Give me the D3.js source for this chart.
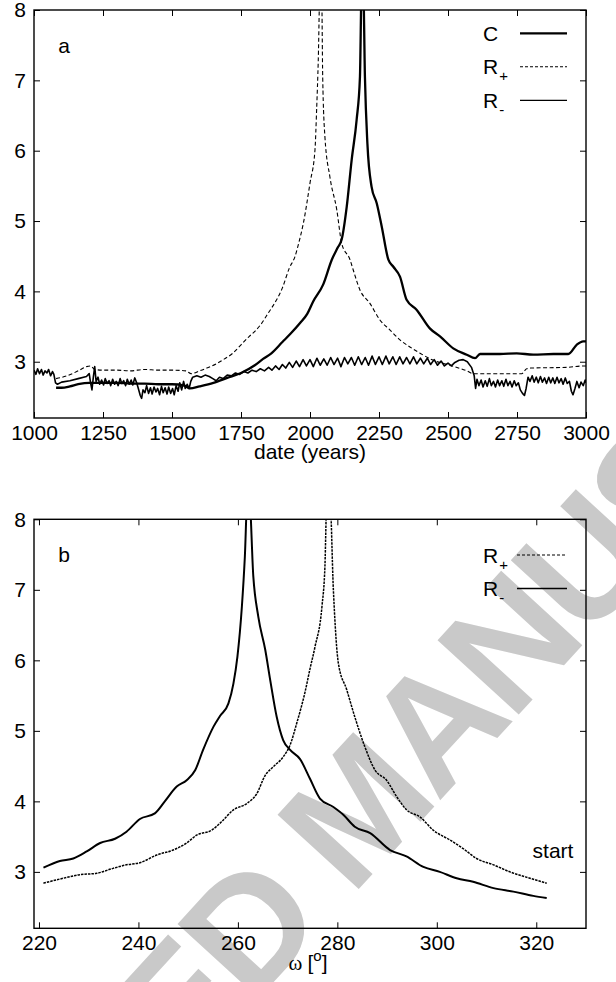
<!DOCTYPE html>
<html>
<head>
<meta charset="utf-8">
<script src="https://cdn.jsdelivr.net/npm/d3@7"></script>
<style>
  body { margin: 0; background: #fff; }
  svg { display: block; }
  text { font-family: "Liberation Sans", Arial, Helvetica, sans-serif; }
</style>
</head>
<body>
<div id="chart"></div>
<script>
// ---- panel a data : date (years) vs value ----
const aXTicks = [1000, 1250, 1500, 1750, 2000, 2250, 2500, 2750, 3000];
const yTicks = [3, 4, 5, 6, 7, 8];

const aC = [
  [1080, 2.63], [1100, 2.63], [1130, 2.65], [1160, 2.68], [1200, 2.70], [1250, 2.70],
  [1300, 2.70], [1350, 2.69], [1400, 2.69], [1450, 2.68], [1500, 2.68], [1545, 2.66],
  [1565, 2.62], [1600, 2.65], [1650, 2.70], [1700, 2.77], [1750, 2.84], [1800, 2.95],
  [1830, 3.04], [1860, 3.12], [1900, 3.28], [1930, 3.40], [1964, 3.55], [1990, 3.68],
  [2012, 3.86], [2048, 4.10], [2079, 4.45], [2100, 4.62], [2115, 4.74], [2133, 5.20],
  [2151, 5.87], [2169, 6.44], [2181, 7.05], [2187, 8.3], [2193, 8.3], [2199, 7.05],
  [2208, 6.10], [2223, 5.49], [2242, 5.25], [2260, 4.92], [2284, 4.45], [2302, 4.35],
  [2326, 4.21], [2350, 3.88], [2386, 3.74], [2435, 3.47], [2471, 3.36], [2519, 3.19],
  [2568, 3.10], [2598, 3.05], [2616, 3.11], [2688, 3.11], [2749, 3.12], [2809, 3.10],
  [2882, 3.11], [2936, 3.11], [2966, 3.24], [2990, 3.29], [3000, 3.29]
];

const aRplus = [
  [1080, 2.76], [1120, 2.80], [1160, 2.87], [1190, 2.93], [1205, 2.94], [1220, 2.89],
  [1250, 2.88], [1300, 2.88], [1350, 2.87], [1400, 2.89], [1450, 2.88], [1500, 2.88],
  [1550, 2.87], [1570, 2.83], [1600, 2.87], [1626, 2.91], [1660, 2.97], [1690, 3.04],
  [1720, 3.12], [1750, 3.24], [1780, 3.36], [1800, 3.43], [1820, 3.52], [1850, 3.70],
  [1879, 3.88], [1900, 4.05], [1925, 4.33], [1946, 4.50], [1960, 4.70], [1976, 4.97],
  [2000, 5.54], [2018, 6.01], [2024, 6.58], [2030, 7.29], [2036, 8.3], [2042, 8.3],
  [2046, 7.05], [2054, 6.20], [2072, 5.63], [2097, 5.16], [2115, 4.68], [2145, 4.45],
  [2157, 4.30], [2181, 4.02], [2217, 3.83], [2254, 3.59], [2290, 3.45], [2326, 3.31],
  [2362, 3.21], [2399, 3.12], [2447, 3.02], [2507, 2.95], [2568, 2.87], [2592, 2.83],
  [2640, 2.83], [2767, 2.83], [2785, 2.90], [2800, 2.91], [2930, 2.92], [2990, 2.94],
  [3000, 2.94]
];

const aRminus = [
  [1000, 2.88], [1007, 2.82], [1013, 2.90], [1020, 2.83], [1027, 2.89], [1033, 2.81],
  [1040, 2.87], [1047, 2.84], [1053, 2.89], [1060, 2.80], [1067, 2.86], [1072, 2.82],
  [1078, 2.70], [1085, 2.68], [1100, 2.71], [1130, 2.73], [1160, 2.76], [1190, 2.79],
  [1200, 2.83], [1205, 2.70], [1210, 2.60], [1215, 2.78], [1220, 2.93], [1225, 2.72],
  [1232, 2.78], [1238, 2.68], [1245, 2.74], [1252, 2.67], [1258, 2.76], [1265, 2.69],
  [1272, 2.73], [1278, 2.66], [1285, 2.75], [1292, 2.68], [1298, 2.72], [1305, 2.66],
  [1312, 2.76], [1318, 2.69], [1325, 2.73], [1332, 2.66], [1338, 2.75], [1345, 2.68],
  [1352, 2.74], [1358, 2.67], [1365, 2.77], [1372, 2.70], [1378, 2.62], [1385, 2.52],
  [1390, 2.48], [1395, 2.60], [1402, 2.56], [1408, 2.66], [1415, 2.55], [1422, 2.63],
  [1428, 2.54], [1435, 2.64], [1442, 2.57], [1448, 2.62], [1455, 2.53], [1462, 2.65],
  [1468, 2.56], [1475, 2.63], [1482, 2.54], [1488, 2.64], [1495, 2.55], [1502, 2.62],
  [1508, 2.53], [1515, 2.66], [1522, 2.58], [1528, 2.70], [1535, 2.60], [1542, 2.72],
  [1548, 2.62], [1555, 2.68], [1562, 2.62], [1568, 2.72], [1575, 2.78], [1590, 2.80],
  [1605, 2.78], [1620, 2.81], [1635, 2.79], [1648, 2.76], [1660, 2.73], [1672, 2.78],
  [1685, 2.76], [1700, 2.81], [1715, 2.80], [1730, 2.84], [1745, 2.82], [1760, 2.86],
  [1775, 2.84], [1790, 2.88], [1805, 2.86], [1820, 2.90], [1835, 2.87], [1850, 2.92],
  [1862, 2.88], [1875, 2.94], [1888, 2.89], [1900, 2.96], [1912, 2.91], [1925, 2.99],
  [1937, 2.92], [1950, 3.01], [1962, 2.93], [1975, 3.03], [1987, 2.94], [2000, 3.03],
  [2012, 2.93], [2025, 3.05], [2037, 2.95], [2050, 3.04], [2062, 2.95], [2075, 3.06],
  [2087, 2.96], [2100, 3.05], [2112, 2.93], [2125, 3.06], [2137, 2.97], [2150, 3.06],
  [2162, 2.95], [2175, 3.07], [2187, 2.96], [2200, 3.06], [2212, 2.95], [2225, 3.08],
  [2237, 2.96], [2250, 3.07], [2262, 2.96], [2275, 3.08], [2287, 2.97], [2300, 3.07],
  [2312, 2.96], [2325, 3.07], [2337, 2.97], [2350, 3.06], [2362, 2.97], [2375, 3.07],
  [2387, 2.97], [2400, 3.05], [2412, 2.97], [2425, 3.05], [2437, 2.96], [2450, 3.03],
  [2462, 2.95], [2475, 3.01], [2487, 2.94], [2500, 2.98], [2512, 2.94], [2525, 2.99],
  [2540, 3.02], [2555, 3.03], [2570, 3.00], [2585, 2.92], [2595, 2.80], [2600, 2.62],
  [2605, 2.75], [2612, 2.66], [2620, 2.74], [2627, 2.64], [2635, 2.73], [2642, 2.65],
  [2650, 2.76], [2657, 2.66], [2665, 2.72], [2672, 2.64], [2680, 2.74], [2687, 2.66],
  [2695, 2.73], [2702, 2.65], [2710, 2.75], [2717, 2.66], [2725, 2.72], [2732, 2.64],
  [2740, 2.73], [2747, 2.66], [2755, 2.70], [2762, 2.60], [2770, 2.55], [2777, 2.52],
  [2783, 2.62], [2790, 2.78], [2797, 2.72], [2805, 2.80], [2812, 2.71], [2820, 2.78],
  [2827, 2.70], [2835, 2.79], [2842, 2.71], [2850, 2.77], [2857, 2.69], [2865, 2.78],
  [2872, 2.70], [2880, 2.77], [2887, 2.69], [2895, 2.78], [2902, 2.70], [2910, 2.76],
  [2917, 2.68], [2925, 2.77], [2932, 2.69], [2940, 2.72], [2947, 2.58], [2953, 2.53],
  [2960, 2.62], [2967, 2.72], [2975, 2.63], [2982, 2.71], [2990, 2.66], [2997, 2.74],
  [3000, 2.70]
];

// ---- panel b data : omega (deg) vs value ----
const bXTicks = [220, 240, 260, 280, 300, 320];

const bRplus = [
  [220.9, 2.84], [224.9, 2.91], [228.2, 2.96], [231.6, 2.98], [234.9, 3.05], [237.6, 3.10],
  [240.3, 3.13], [243.7, 3.24], [247.0, 3.31], [249.7, 3.41], [251.7, 3.52], [254.7, 3.59],
  [256.7, 3.71], [259.1, 3.88], [261.8, 3.97], [263.8, 4.11], [265.5, 4.37], [267.1, 4.49],
  [269.1, 4.63], [270.5, 4.80], [271.8, 5.10], [273.5, 5.55], [274.5, 5.88], [275.5, 6.19],
  [276.9, 6.76], [277.5, 7.33], [277.9, 8.3], [278.5, 8.3], [279.2, 7.0], [280.2, 5.96],
  [281.9, 5.58], [283.5, 5.20], [285.5, 4.78], [287.6, 4.44], [289.9, 4.30], [291.9, 4.07],
  [293.9, 3.88], [296.6, 3.78], [299.3, 3.59], [302.7, 3.45], [305.3, 3.33], [308.0, 3.19],
  [311.4, 3.10], [314.7, 3.00], [318.7, 2.91], [322.1, 2.84]
];

const bRminus = [
  [220.9, 3.06], [224.2, 3.155], [226.9, 3.19], [229.6, 3.29], [232.3, 3.41], [235.3, 3.47],
  [237.6, 3.57], [240.3, 3.75], [243.3, 3.83], [245.3, 4.00], [247.7, 4.21], [249.7, 4.30],
  [251.4, 4.44], [253.0, 4.73], [255.1, 5.06], [256.4, 5.21], [258.1, 5.39], [259.1, 5.67],
  [259.9, 6.05], [260.8, 6.76], [261.4, 7.47], [261.9, 8.3], [262.3, 8.3], [263.1, 7.19],
  [264.1, 6.62], [265.5, 6.15], [266.5, 5.72], [267.8, 5.20], [269.1, 4.87], [270.5, 4.73],
  [272.5, 4.60], [274.5, 4.32], [276.5, 4.04], [279.2, 3.92], [281.2, 3.81], [283.5, 3.64],
  [286.6, 3.55], [290.6, 3.31], [293.9, 3.22], [297.3, 3.07], [300.6, 3.00], [304.0, 2.91],
  [307.3, 2.86], [311.4, 2.77], [315.4, 2.72], [319.4, 2.66], [322.1, 2.63]
];

const W = 616, H = 982;
const svg = d3.select("#chart").append("svg")
    .attr("width", W)
    .attr("height", H)
    .style("background", "#fff");

// watermark behind everything
svg.append("text")
    .attr("transform", "translate(355,808) rotate(-47.5)")
    .attr("text-anchor", "middle")
    .attr("dy", "0.36em")
    .attr("font-size", 160)
    .attr("letter-spacing", -6)
    .attr("font-weight", "bold")
    .attr("fill", "#c9c9c9")
    .text("ACCEPTED MANUSCRIPT");

function drawPanel(opt) {
    let g = svg.append("g");

    let x = d3.scaleLinear().domain(opt.xDomain).range([opt.left, opt.right]);
    let y = d3.scaleLinear().domain([2.2, 8]).range([opt.bottom, opt.top]);

    g.append("clipPath").attr("id", opt.id + "-clip")
        .append("rect")
        .attr("x", opt.left).attr("y", opt.top)
        .attr("width", opt.right - opt.left).attr("height", opt.bottom - opt.top);

    // axes with inward ticks, mirrored on top/right
    let xAxis = d3.axisBottom(x).tickValues(opt.xTicks).tickFormat(d3.format("d"))
        .tickSizeInner(-6).tickSizeOuter(0).tickPadding(7);
    let xTop = d3.axisTop(x).tickValues(opt.xTicks).tickFormat("")
        .tickSizeInner(-6).tickSizeOuter(0);
    let yAxis = d3.axisLeft(y).tickValues(yTicks).tickFormat(d3.format("d"))
        .tickSizeInner(-6).tickSizeOuter(0).tickPadding(8);
    let yRight = d3.axisRight(y).tickValues(yTicks).tickFormat("")
        .tickSizeInner(-6).tickSizeOuter(0);

    let axes = [
        [xAxis, `translate(0,${opt.bottom})`],
        [xTop, `translate(0,${opt.top})`],
        [yAxis, `translate(${opt.left},0)`],
        [yRight, `translate(${opt.right},0)`]
    ];
    axes.forEach(a => {
        let ag = g.append("g").attr("transform", a[1]).call(a[0]);
        ag.select(".domain").remove();
        ag.selectAll("line").attr("stroke", "#000").attr("stroke-width", 1);
        ag.selectAll("text")
            .attr("fill", "#000")
            .attr("font-size", 21)
            .attr("font-family", "'Liberation Sans', Arial, sans-serif");
    });

    // curves
    let line = d3.line().x(d => x(d[0])).y(d => y(d[1]));
    let plot = g.append("g").attr("clip-path", `url(#${opt.id}-clip)`);
    opt.series.forEach(s => {
        plot.append("path")
            .datum(s.data)
            .attr("fill", "none")
            .attr("stroke", "#000")
            .attr("stroke-width", s.width)
            .attr("stroke-dasharray", s.dash || null)
            .attr("stroke-linejoin", "round")
            .attr("d", line.curve(s.smooth ? d3.curveMonotoneX : d3.curveLinear));
    });

    // frame
    g.append("rect")
        .attr("x", opt.left).attr("y", opt.top)
        .attr("width", opt.right - opt.left).attr("height", opt.bottom - opt.top)
        .attr("fill", "none").attr("stroke", "#000").attr("stroke-width", 1.4);

    // panel letter
    g.append("text")
        .attr("x", 64).attr("y", opt.top + 43)
        .attr("text-anchor", "middle")
        .attr("font-size", 21)
        .text(opt.letter);

    // legend
    opt.series.filter(s => s.key).forEach((s, i) => {
        let ly = opt.top + opt.legendY0 + i * 33.5;
        let t = g.append("text")
            .attr("x", 483).attr("y", ly + 7.5)
            .attr("font-size", 21);
        t.append("tspan").text(s.key);
        if (s.sub) {
            t.append("tspan")
                .attr("dy", 7).attr("dx", 1)
                .attr("font-size", 15)
                .text(s.sub);
        }
        g.append("line")
            .attr("x1", opt.legendX1).attr("x2", 567)
            .attr("y1", ly).attr("y2", ly)
            .attr("stroke", "#000")
            .attr("stroke-width", s.legendWidth || s.width)
            .attr("stroke-dasharray", s.legendDash || s.dash || null);
    });

    return {x, y, g};
}

// panel a
let pa = drawPanel({
    id: "pa", letter: "a",
    left: 34, right: 586, top: 10, bottom: 418,
    xDomain: [1000, 3000], xTicks: aXTicks,
    legendY0: 23.3, legendX1: 520,
    series: [
        {key: "C", data: aC, width: 2.3, smooth: true},
        {key: "R", sub: "+", data: aRplus, width: 1.1, dash: "4,2.5", legendDash: "3,2", smooth: true},
        {key: "R", sub: "-", data: aRminus, width: 1.6, legendWidth: 1.3, smooth: false}
    ]
});

pa.g.append("text")
    .attr("x", 310).attr("y", 459)
    .attr("text-anchor", "middle")
    .attr("font-size", 21)
    .text("date (years)");

// panel b
let pb = drawPanel({
    id: "pb", letter: "b",
    left: 34, right: 586, top: 519.3, bottom: 928.3,
    xDomain: [219, 330], xTicks: bXTicks,
    legendY0: 35.7, legendX1: 517,
    series: [
        {key: "R", sub: "+", data: bRplus, width: 1.5, dash: "2.5,1", legendDash: "3,2", legendWidth: 1.1, smooth: true},
        {key: "R", sub: "-", data: bRminus, width: 2, legendWidth: 1.4, smooth: true}
    ]
});

pb.g.append("text")
    .attr("x", 553).attr("y", 858)
    .attr("text-anchor", "middle")
    .attr("font-size", 21)
    .text("start");

let omega = pb.g.append("text")
    .attr("x", 308).attr("y", 970)
    .attr("text-anchor", "middle")
    .attr("font-size", 21);
omega.append("tspan").attr("font-family", "'Liberation Serif', 'Times New Roman', serif").text("ω ");
omega.append("tspan").text("[");
omega.append("tspan").attr("dy", -9).attr("font-size", 15).text("o");
omega.append("tspan").attr("dy", 9).text("]");
</script>
</body>
</html>
